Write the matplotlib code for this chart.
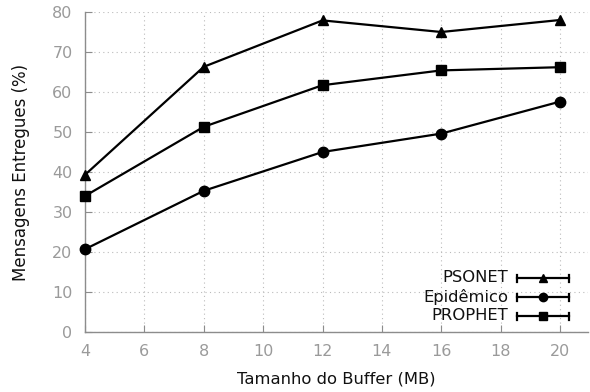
import matplotlib
matplotlib.use("Agg")
import matplotlib.pyplot as plt
from matplotlib.lines import Line2D

plt.rcParams['font.family'] = ['DejaVu Sans']

buffer_mb = [4, 8, 12, 16, 20]
psonet = [39.3, 66.3, 77.9, 75.0, 78.0]
epidemico = [20.7, 35.3, 45.0, 49.6, 57.6]
prophet = [34.0, 51.3, 61.7, 65.4, 66.2]
x_ticks = [4, 6, 8, 10, 12, 14, 16, 18, 20]
y_ticks = [0, 10, 20, 30, 40, 50, 60, 70, 80]

series = [("PSONET", psonet, "^"), ("Epidêmico", epidemico, "o"), ("PROPHET", prophet, "s")]

fig = plt.figure(figsize=(5.9, 3.92), dpi=100)
ax = fig.add_axes([85/590, 60/392, 503/590, 320/392])

gray = "#8c8c8c"
for name, vals, mk in series:
    ax.plot(buffer_mb, vals, color="black", lw=1.6, marker=mk, ms=7.5, clip_on=False, zorder=3)

ax.set_xlim(4, 4 + 503/29.69)
ax.set_ylim(0, 80)
ax.set_xticks(x_ticks)
ax.set_yticks(y_ticks)
ax.grid(True, color="#bbbbbb", linestyle=(0, (1, 3)), lw=0.8)
for s in ["top", "right"]:
    ax.spines[s].set_visible(False)
for s in ["left", "bottom"]:
    ax.spines[s].set_color(gray)
    ax.spines[s].set_linewidth(1.0)
ax.tick_params(direction="in", length=5, color=gray, labelcolor="#9a9a9a", labelsize=11.5, pad=9)
ax.set_xlabel("Tamanho do Buffer (MB)", fontsize=11.8, labelpad=9, color="#111111")
ax.set_ylabel("Mensagens Entregues (%)", fontsize=12, labelpad=16, color="#111111")

# manual legend (gnuplot style)
tr = fig.transFigure
for i, (name, vals, mk) in enumerate(series):
    yp = 1 - (278 + 19*i)/392
    x0, x1, xm = 517/590, 569/590, 543/590
    fig.add_artist(Line2D([x0, x1], [yp, yp], color="black", lw=1.6, transform=tr))
    for xe in (x0, x1):
        fig.add_artist(Line2D([xe, xe], [yp - 3.5/392, yp + 3.5/392], color="black", lw=1.6, transform=tr))
    fig.add_artist(Line2D([xm], [yp], color="black", marker=mk, ms=6, lw=0, transform=tr))
    fig.text(508/590, yp, name, ha="right", va="center", fontsize=11.8, color="#111111")

fig.savefig("out.png", dpi=100)
